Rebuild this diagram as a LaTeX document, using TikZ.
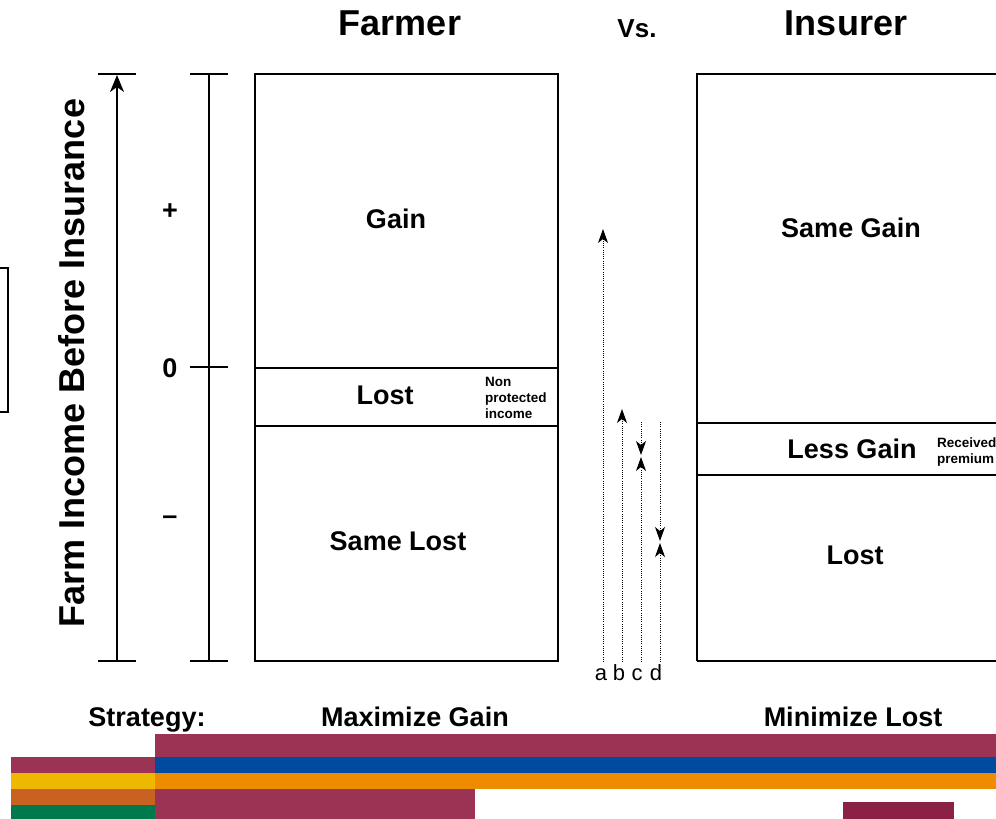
\documentclass[tikz,border=0pt]{standalone}
\usepackage{fontspec}
\setmainfont{Liberation Sans}
\usetikzlibrary{arrows.meta}
\definecolor{barpurple}{HTML}{9B3354}
\definecolor{barblue}{HTML}{004AA0}
\definecolor{baryellow}{HTML}{EEB800}
\definecolor{barorange}{HTML}{EE8C00}
\definecolor{barbrown}{HTML}{C96220}
\definecolor{bargreen}{HTML}{007A4D}
\definecolor{logored}{HTML}{8B2246}
\tikzset{
  title/.style={font=\fontsize{36}{40}\selectfont\bfseries, inner sep=0pt},
  big/.style={font=\fontsize{27}{30}\selectfont\bfseries, inner sep=0pt},
  small/.style={font=\fontsize{13.5}{16}\selectfont\bfseries, inner sep=0pt, align=left, anchor=west},
  letter/.style={font=\fontsize{22}{24}\selectfont, inner sep=0pt, anchor=base},
  boxline/.style={draw=black, line width=1.2pt},
  tickline/.style={draw=black, line width=1.5pt},
  dotarrow/.style={dash pattern=on 1pt off 1.2pt, line width=1pt, -{Stealth[length=14pt,width=10pt,inset=4pt]}},
}
\begin{document}
\begin{tikzpicture}[x=1pt,y=-1pt]
\useasboundingbox (0,0) rectangle (996,819);
\clip (0,0) rectangle (996,819);
% titles
\node[title] (farmer) at (400,23) {Farmer};
\node[font=\fontsize{26}{30}\selectfont\bfseries, inner sep=0pt] (vs) at (637,29) {Vs.};
\node[title] (insurer) at (846,23) {Insurer};
% axis label
\node[title, rotate=90] (ylabel) at (72,363) {Farm Income Before Insurance};
% left partial box
\draw[boxline] (-10,268) rectangle (8,412);
% left axis with arrow
\coordinate (axb) at (117,661);
\coordinate (axt) at (117,75);
\draw[tickline, -{Stealth[length=17pt,width=14pt,inset=5pt]}] (axb) -- (axt);
\draw[tickline] (98,74) -- (136,74);
\draw[tickline] (98,661) -- (136,661);
% second axis
\draw[tickline] (209,74) -- (209,661);
\draw[tickline] (190,74) -- (228,74);
\draw[tickline] (190,661) -- (228,661);
\draw[tickline] (190,367) -- (228,367);
\node[big] (plus) at (170,212) {+};
\node[big] (zero) at (170,368) {0};
\node[big] (minus) at (170,520) {–};
% farmer box
\draw[boxline] (255,74) rectangle (558,661);
\draw[boxline] (255,368) -- (558,368);
\draw[boxline] (255,426) -- (558,426);
\node[big] (gain) at (396,219) {Gain};
\node[big] (lost1) at (385,395) {Lost};
\node[big] (samelost) at (398,541) {Same Lost};
\node[small] (nonprot) at (485,398) {Non\\protected\\income};
% insurer box
\draw[boxline] (697,661) -- (697,74) -- (1010,74);
\draw[boxline] (697,661) -- (1010,661);
\draw[boxline] (697,423) -- (1010,423);
\draw[boxline] (697,475) -- (1010,475);
\node[big] (samegain) at (851,228) {Same Gain};
\node[big] (lessgain) at (852,449) {Less Gain};
\node[big] (lost2) at (855,555) {Lost};
\node[small] (recv) at (937,452) {Received\\premium};
% dotted arrows
\coordinate (a0) at (603,662); \coordinate (a1) at (603,229);
\coordinate (b0) at (622,662); \coordinate (b1) at (622,409);
\coordinate (c0) at (641,422); \coordinate (c1) at (641,455);
\coordinate (c2) at (641,662); \coordinate (c3) at (641,457);
\coordinate (d0) at (660,422); \coordinate (d1) at (660,541);
\coordinate (d2) at (660,662); \coordinate (d3) at (660,543);
\draw[dotarrow] (a0) -- (a1);
\draw[dotarrow] (b0) -- (b1);
\draw[dotarrow] (c0) -- (c1);
\draw[dotarrow] (c2) -- (c3);
\draw[dotarrow] (d0) -- (d1);
\draw[dotarrow] (d2) -- (d3);
\node[letter] (la) at (601,680) {a};
\node[letter] (lb) at (619,680) {b};
\node[letter] (lc) at (637,680) {c};
\node[letter] (ld) at (656,680) {d};
% strategy line
\node[big, anchor=base] (strategy) at (147,726) {Strategy:};
\node[big, anchor=base] (maxgain) at (415,726) {Maximize Gain};
\node[big, anchor=base] (minlost) at (853,726) {Minimize Lost};
% colour bars
\fill[barpurple] (155,734) rectangle (996,757);
\fill[barpurple] (11,757) rectangle (155,773);
\fill[barblue] (155,757) rectangle (996,773);
\fill[baryellow] (11,773) rectangle (155,789);
\fill[barorange] (155,773) rectangle (996,789);
\fill[barbrown] (11,789) rectangle (155,805);
\fill[barpurple] (155,789) rectangle (475,819);
\fill[bargreen] (11,805) rectangle (155,819);
\fill[logored] (843,802) rectangle (954,819);
\end{tikzpicture}
\end{document}
